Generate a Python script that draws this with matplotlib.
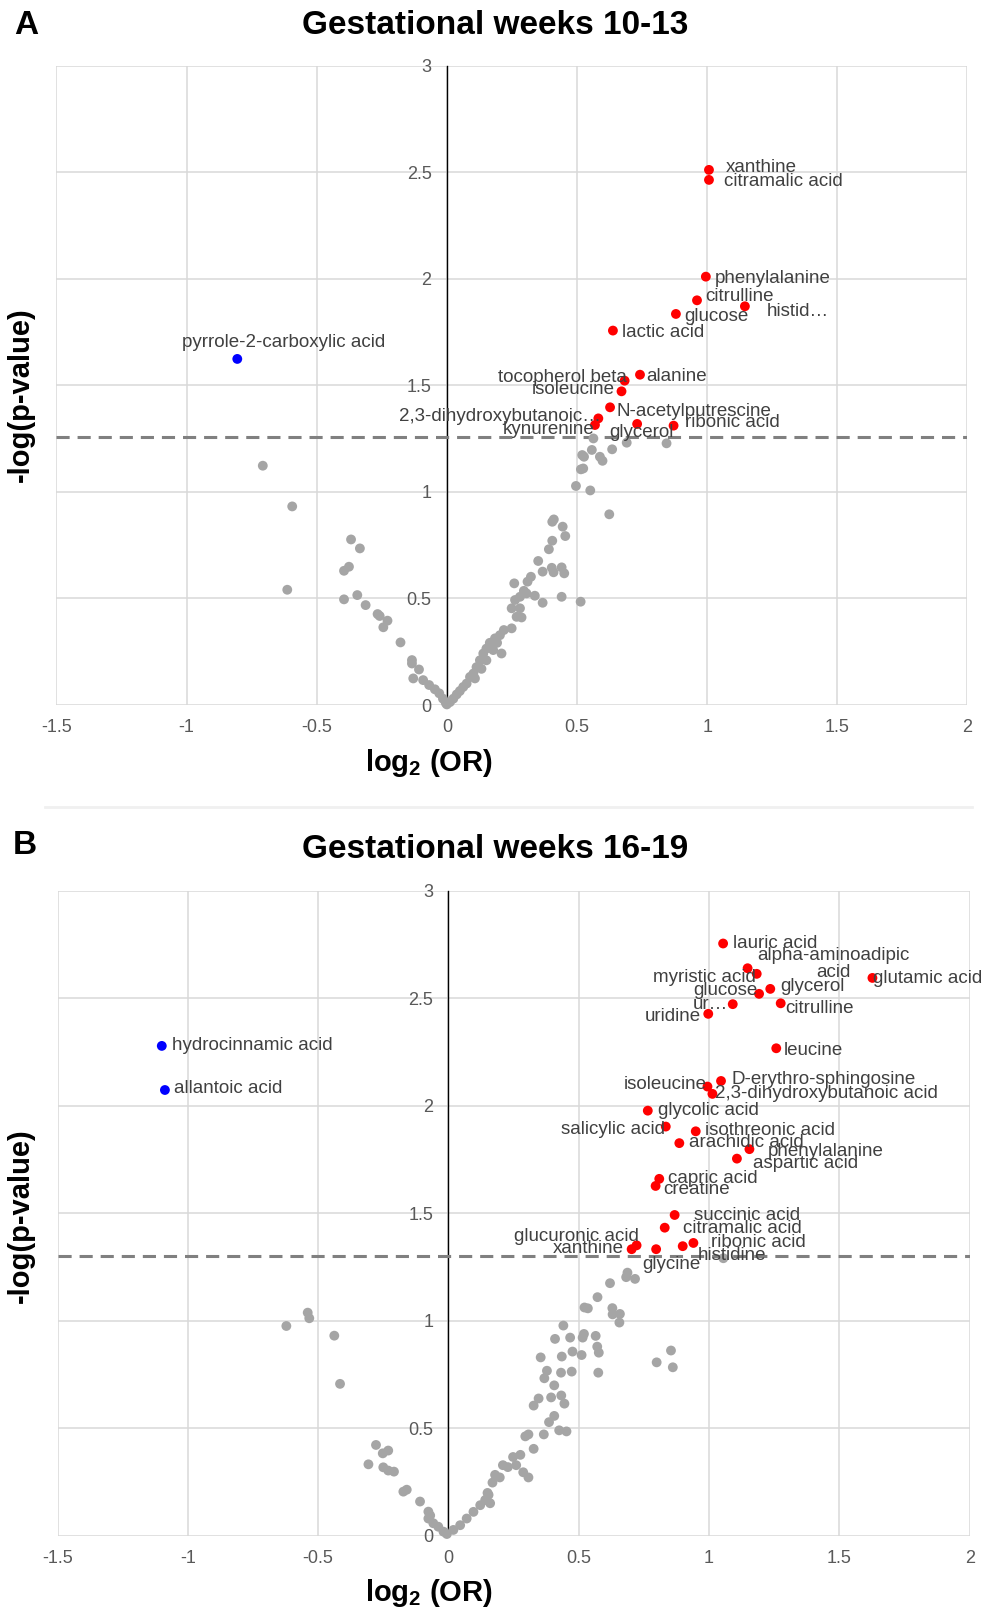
import matplotlib
matplotlib.use('Agg')
import matplotlib.pyplot as plt

plt.rcParams['font.family'] = ['Liberation Sans', 'DejaVu Sans']
plt.rcParams['mathtext.default'] = 'regular'

# ---- panel A: gestational weeks 10-13 ----
a_sig_names = ['xanthine', 'citramalic acid', 'phenylalanine', 'citrulline', 'histid\u2026',
               'glucose', 'lactic acid', 'alanine', 'tocopherol beta', 'isoleucine',
               'N-acetylputrescine', '2,3-dihydroxybutanoic\u2026', 'kynurenine', 'glycerol',
               'ribonic acid']
a_sig_x = [1.007, 1.007, 0.995, 0.961, 1.145, 0.880, 0.638, 0.742, 0.683, 0.671,
           0.627, 0.582, 0.569, 0.731, 0.871]
a_sig_y = [2.511, 2.464, 2.010, 1.899, 1.871, 1.835, 1.757, 1.550, 1.522, 1.472,
           1.397, 1.345, 1.314, 1.319, 1.311]

a_neg_names = ['pyrrole-2-carboxylic acid']
a_neg_x = [-0.805]
a_neg_y = [1.624]

a_gray_x = [-0.707, -0.594, -0.613, -0.368, -0.334, -0.395, -0.376, -0.395, -0.344, -0.312,
            -0.266, -0.258, -0.228, -0.244, -0.178, -0.134, -0.134, -0.107, -0.129, -0.091,
            -0.068, -0.046, -0.029, -0.015, -0.004,
            0.563, 0.520, 0.527, 0.557, 0.588, 0.598, 0.635, 0.691, 0.844, 0.515,
            0.524, 0.496, 0.551, 0.624, 0.411, 0.405, 0.445, 0.455, 0.405, 0.392,
            0.351, 0.368, 0.403, 0.410, 0.441, 0.451, 0.323, 0.310, 0.259, 0.441,
            0.514, 0.368, 0.338, 0.296, 0.306, 0.281, 0.262, 0.249, 0.281, 0.268,
            0.287, 0.249, 0.219, 0.204, 0.185, 0.165, 0.193, 0.152, 0.178, 0.210,
            0.140, 0.127, 0.152, 0.114, 0.133, 0.102, 0.089, 0.108, 0.076, 0.063,
            0.050, 0.038, 0.025, 0.012, 0.000]
a_gray_y = [1.123, 0.932, 0.541, 0.777, 0.735, 0.630, 0.649, 0.496, 0.516, 0.469,
            0.427, 0.418, 0.396, 0.365, 0.294, 0.211, 0.195, 0.167, 0.125, 0.117,
            0.094, 0.074, 0.055, 0.030, 0.010,
            1.251, 1.173, 1.165, 1.197, 1.165, 1.146, 1.200, 1.231, 1.228, 1.106,
            1.110, 1.028, 1.007, 0.895, 0.871, 0.860, 0.837, 0.793, 0.771, 0.731,
            0.676, 0.626, 0.644, 0.623, 0.646, 0.618, 0.602, 0.579, 0.571, 0.508,
            0.485, 0.480, 0.513, 0.536, 0.524, 0.508, 0.493, 0.454, 0.454, 0.414,
            0.411, 0.360, 0.352, 0.328, 0.313, 0.292, 0.292, 0.265, 0.258, 0.242,
            0.242, 0.210, 0.210, 0.178, 0.170, 0.148, 0.132, 0.125, 0.101, 0.085,
            0.066, 0.050, 0.030, 0.014, 0.003]
a_cutoff = 1.26

# ---- panel B: gestational weeks 16-19 ----
b_sig_names = ['lauric acid', 'alpha-aminoadipic\nacid', 'myristic acid', 'glutamic acid',
               'glycerol', 'glucose', 'ur\u2026', 'uridine', 'citrulline', 'leucine',
               'D-erythro-sphingosine', 'isoleucine', '2,3-dihydroxybutanoic acid',
               'glycolic acid', 'salicylic acid', 'isothreonic acid', 'arachidic acid',
               'phenylalanine', 'aspartic acid', 'capric acid', 'creatine', 'succinic acid',
               'citramalic acid', 'ribonic acid', 'histidine', 'glycine', 'glucuronic acid',
               'xanthine']
b_sig_x = [1.054, 1.183, 1.148, 1.627, 1.235, 1.192, 1.091, 0.997, 1.275, 1.258,
           1.046, 0.994, 1.013, 0.765, 0.834, 0.949, 0.886, 1.155, 1.107, 0.809,
           0.795, 0.868, 0.830, 0.940, 0.899, 0.797, 0.722, 0.703]
b_sig_y = [2.754, 2.613, 2.639, 2.594, 2.543, 2.520, 2.472, 2.427, 2.476, 2.267,
           2.115, 2.089, 2.055, 1.977, 1.903, 1.881, 1.826, 1.798, 1.754, 1.660,
           1.627, 1.492, 1.433, 1.362, 1.347, 1.333, 1.351, 1.333]

b_neg_names = ['hydrocinnamic acid', 'allantoic acid']
b_neg_x = [-1.100, -1.088]
b_neg_y = [2.278, 2.073]

b_gray_x = [-0.622, -0.540, -0.534, -0.438, -0.416, -0.278, -0.252, -0.231, -0.307, -0.250,
            -0.231, -0.209, -0.173, -0.160, -0.109, -0.077, -0.070, -0.077, -0.058, -0.039,
            -0.019, -0.006,
            0.019, 0.045, 0.070, 0.096, 0.122, 0.141, 0.154, 0.179, 0.160,
            0.354, 0.378, 0.406, 0.433, 0.453, 0.425, 0.327, 0.346, 0.394, 0.295,
            0.307, 0.248, 0.276, 0.228, 0.209, 0.197, 0.169, 0.150, 0.287, 0.307,
            0.260, 0.327, 0.366, 0.406, 0.445, 0.386, 0.409,
            0.687, 0.716, 0.682, 0.620, 0.572, 0.522, 0.535, 0.629, 0.658, 0.630,
            0.656, 0.441, 0.467, 0.520, 0.515, 0.565, 0.571, 0.577, 0.511, 0.476,
            0.435, 0.854, 0.799, 0.861, 0.432, 0.473, 0.575, 0.368, 1.055]
b_gray_y = [0.976, 1.038, 1.012, 0.931, 0.707, 0.423, 0.384, 0.397, 0.333, 0.319,
            0.304, 0.299, 0.206, 0.215, 0.160, 0.113, 0.095, 0.081, 0.059, 0.043,
            0.020, 0.009,
            0.028, 0.050, 0.081, 0.112, 0.143, 0.167, 0.191, 0.284, 0.152,
            0.830, 0.768, 0.700, 0.653, 0.486, 0.491, 0.606, 0.639, 0.644, 0.463,
            0.472, 0.367, 0.377, 0.320, 0.329, 0.272, 0.248, 0.200, 0.296, 0.272,
            0.329, 0.405, 0.472, 0.558, 0.615, 0.529, 0.916,
            1.224, 1.195, 1.203, 1.175, 1.110, 1.062, 1.058, 1.059, 1.032, 1.030,
            0.992, 0.978, 0.922, 0.939, 0.922, 0.930, 0.880, 0.852, 0.841, 0.857,
            0.834, 0.862, 0.807, 0.784, 0.759, 0.764, 0.759, 0.733, 1.291]
b_cutoff = 1.30

x_ticks = [-1.5, -1, -0.5, 0, 0.5, 1, 1.5, 2]
x_ticklabels = ['-1.5', '-1', '-0.5', '0', '0.5', '1', '1.5', '2']
y_ticks = [0, 0.5, 1, 1.5, 2, 2.5, 3]
y_ticklabels = ['0', '0.5', '1', '1.5', '2', '2.5', '3']

# label placement (pixel offsets from the point, horizontal alignment)
a_sig_pos = [(17, 2, 'left'), (15, -2, 'left'), (9, -2, 'left'), (8, 4, 'left'),
             (22, -5, 'left'), (8, -3, 'left'), (9, -2, 'left'), (6, -2, 'left'),
             (2, 3, 'right'), (-7, 2, 'right'), (6, -4, 'left'), (3, 2, 'right'),
             (0, -5, 'right'), (4, -9, 'center'), (11, 3, 'left')]
a_neg_pos = [(46, 16, 'center')]
b_sig_pos = [(10, 0, 'left'), (77, 10, 'center'), (8, -9, 'right'), (1, -1, 'left'),
             (10, 2, 'left'), (-2, 3, 'right'), (-5, 0, 'right'), (-7, -3, 'right'),
             (5, -5, 'left'), (7, -2, 'left'), (10, 1, 'left'), (-1, 2, 'right'),
             (3, 0, 'left'), (10, 0, 'left'), (-1, -3, 'right'), (9, 1, 'left'),
             (10, 1, 'left'), (18, -2, 'left'), (16, -5, 'left'), (9, 0, 'left'),
             (8, -4, 'left'), (19, -1, 'left'), (18, -1, 'left'), (18, 0, 'left'),
             (15, -9, 'left'), (15, -15, 'center'), (2, 9, 'right'), (-8, 1, 'right')]
b_neg_pos = [(10, 0, 'left'), (9, 2, 'left')]

GRID = '#d9d9d9'
GRAY = '#a5a5a5'
LABEL = '#404040'


def label_points(ax, names, xs, ys, pos):
    for n, x, y, (dx, dy, ha) in zip(names, xs, ys, pos):
        ax.annotate(n, (x, y), xytext=(dx, dy), textcoords='offset pixels',
                    ha=ha, va='center', fontsize=13.5, color=LABEL,
                    multialignment='center', linespacing=1.0, zorder=5)


def panel(rect, gx, gy, sx, sy, snames, spos, nx, ny, nnames, npos, cutoff):
    ax = fig.add_axes(rect)
    ax.set_xlim(-1.5, 2)
    ax.set_ylim(0, 3)
    for v in x_ticks:
        ax.axvline(v, color=GRID, lw=1.1, zorder=0)
    for v in y_ticks:
        ax.axhline(v, color=GRID, lw=1.1, zorder=0)
    for s in ['top', 'right', 'bottom']:
        ax.spines[s].set_visible(False)
    ax.spines['left'].set_position(('data', 0))
    ax.spines['left'].set_color('black')
    ax.spines['left'].set_linewidth(1.0)
    ax.spines['left'].set_zorder(1)
    ax.set_xticks(x_ticks)
    ax.set_xticklabels(x_ticklabels)
    ax.set_yticks(y_ticks)
    ax.set_yticklabels(y_ticklabels)
    ax.tick_params(axis='x', length=0, pad=10, labelsize=13, labelcolor='#595959')
    ax.tick_params(axis='y', length=0, pad=11, labelsize=13, labelcolor='#595959')
    ax.axhline(cutoff, color='#808080', lw=2.2, ls=(0, (4.3, 2.6)), zorder=2)
    ax.scatter(gx, gy, s=50, color=GRAY, edgecolors='none', zorder=3, clip_on=False)
    ax.scatter(sx, sy, s=50, color='#ff0000', edgecolors='none', zorder=4, clip_on=False)
    ax.scatter(nx, ny, s=50, color='#0000ff', edgecolors='none', zorder=4, clip_on=False)
    label_points(ax, snames, sx, sy, spos)
    label_points(ax, nnames, nx, ny, npos)
    return ax


fig = plt.figure(figsize=(9.82, 16.09), dpi=100)

panel([0.0574, 0.5618, 0.9278, 0.3974], a_gray_x, a_gray_y, a_sig_x, a_sig_y, a_sig_names,
      a_sig_pos, a_neg_x, a_neg_y, a_neg_names, a_neg_pos, a_cutoff)
panel([0.0586, 0.0454, 0.9288, 0.4011], b_gray_x, b_gray_y, b_sig_x, b_sig_y, b_sig_names,
      b_sig_pos, b_neg_x, b_neg_y, b_neg_names, b_neg_pos, b_cutoff)

H = 1609.0
W = 982.0
fig.text(495 / W, 1 - 25 / H, 'Gestational weeks 10-13', ha='center', va='center',
         fontsize=24, fontweight='bold')
fig.text(495 / W, 1 - 850 / H, 'Gestational weeks 16-19', ha='center', va='center',
         fontsize=24, fontweight='bold')
fig.text(26 / W, 1 - 25 / H, 'A', ha='center', va='center', fontsize=24, fontweight='bold')
fig.text(25 / W, 1 - 845 / H, 'B', ha='center', va='center', fontsize=24, fontweight='bold')
for yc in [395, 1216]:
    fig.text(21 / W, 1 - yc / H, '-log(p-value)', rotation=90, ha='center', va='center',
             fontsize=21, fontweight='bold')
for yc in [763, 1593]:
    fig.text(429 / W, 1 - yc / H, 'log$_2$ (OR)', ha='center', va='center',
             fontsize=21, fontweight='bold')
fig.add_artist(plt.Line2D([45 / W, 0.99], [1 - 807 / H, 1 - 807 / H], color='#f0f0f0', lw=2))

fig.savefig('out.png', dpi=100)
